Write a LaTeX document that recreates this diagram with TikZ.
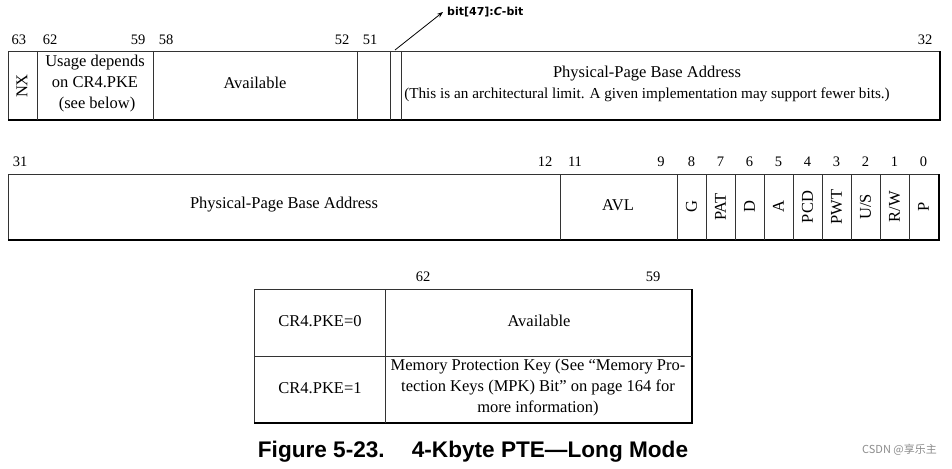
\documentclass[tikz,border=0pt]{standalone}
\usepackage{fontspec}
\setmainfont{Liberation Serif}
\newfontfamily\capfont{Liberation Sans}
\newfontfamily\notefont{DejaVu Sans}
\newfontfamily\cjkfont{Noto Sans CJK SC}
\usetikzlibrary{arrows.meta}

\tikzset{
  field/.style={font=\fontsize{16.5}{21}\selectfont, align=center, inner sep=0pt},
  vfield/.style={field, rotate=90},
  bitnum/.style={font=\fontsize{14.5}{16}\selectfont, inner sep=0pt},
  thinline/.style={line width=0.9pt, black!80},
  shadowline/.style={line width=2.8pt, black},
}
% box with thin top/left and heavy bottom/right edges
\newcommand{\regbox}[4]{%
  \draw[thinline] (#1,#2) rectangle (#3,#4);
  \draw[shadowline] (#1,#4) -- (#3,#4) -- (#3,#2);
}

\begin{document}
\begin{tikzpicture}[x=1pt, y=-1pt]
  \useasboundingbox (0,0) rectangle (952,468);

  % --- bits 63..32 ---
  \regbox{8}{51}{940}{120}
  \foreach \x in {37,153,357,390,401}{
    \draw[thinline] (\x,51) -- (\x,120);
  }
  \foreach \x/\n in {19/63, 50/62, 138/59, 166/58, 342/52, 370/51, 925/32}{
    \node[bitnum] (hi\n) at (\x,40) {\n};
  }
  \node[vfield] (nx) at (22,86) {NX};
  \node[field] (usage) at (95,84) {Usage depends\\on CR4.PKE\\\ (see below)};
  \node[field] (avlhi) at (255,83) {Available};
  \node[field] (ppbahi) at (647,84)
    {Physical-Page Base Address\\{\fontsize{15.2}{21}\selectfont (This is an architectural limit. A given implementation may support fewer bits.)}};
  % C-bit
  \coordinate (cbit) at (395,50);
  \node[anchor=west, inner sep=0pt, font=\notefont\bfseries\fontsize{11}{13}\selectfont]
    (cbitlbl) at (447,12) {bit[47]:\textit{C}-bit};
  \draw[-{Stealth[length=6pt]}, line width=0.8pt] (cbit) -- ([xshift=-4pt]cbitlbl.west);

  % --- bits 31..0 ---
  \regbox{8}{174}{939}{240}
  \foreach \x in {560,677,706,735,764,793,822,851,880,909}{
    \draw[thinline] (\x,174) -- (\x,240);
  }
  \foreach \x/\n in {20/31, 545/12, 575/11, 661/9}{
    \node[bitnum] (lo\n) at (\x,162) {\n};
  }
  \node[field] (ppbalo) at (284,205) {Physical-Page Base Address};
  \node[field] (avl) at (618,205) {AVL};
  \foreach \n/\lbl [count=\i from 0] in {8/G, 7/PAT, 6/D, 5/A, 4/PCD, 3/PWT, 2/{U/S}, 1/{R/W}, 0/P}{
    \node[bitnum] (lo\n) at (691.5+29*\i,162) {\n};
    \node[vfield] (f\n) at (691.5+29*\i,207) {\lbl};
  }

  % --- CR4.PKE table ---
  \regbox{254}{289}{692}{423}
  \draw[thinline] (254,356) -- (692,356);
  \draw[thinline] (385,289) -- (385,423);
  \node[bitnum] (tb62) at (423,277) {62};
  \node[bitnum] (tb59) at (653,277) {59};
  \node[field] (pke0) at (320,321) {CR4.PKE=0};
  \node[field] (avltb) at (539,321) {Available};
  \node[field] (pke1) at (320,388) {CR4.PKE=1};
  \node[field] (mpk) at (538,388)
    {Memory Protection Key (See ``Memory Pro-\\tection Keys (MPK) Bit'' on page 164 for\\more information)};

  % caption
  \node[inner sep=0pt, font=\capfont\bfseries\fontsize{22.6}{25}\selectfont]
    (caption) at (473,452) {Figure 5-23.\hspace{1.2em}4-Kbyte PTE—Long Mode};
  \node[anchor=east, inner sep=0pt, text=black!45, font=\cjkfont\fontsize{11}{13}\selectfont]
    (mark) at (937,450) {CSDN @享乐主};
\end{tikzpicture}
\end{document}
